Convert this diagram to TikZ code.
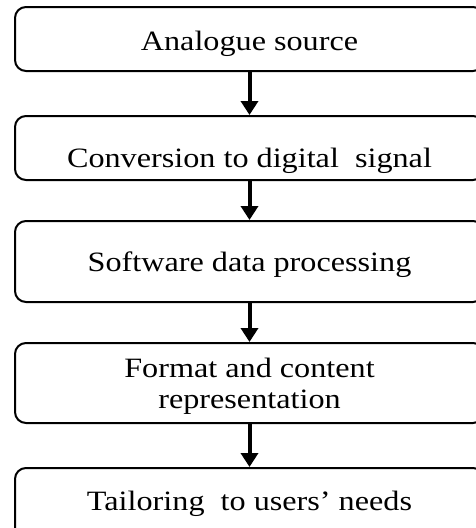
\documentclass[tikz,border=0pt]{standalone}
\usepackage{fontspec}
\setmainfont{Liberation Serif}[FakeStretch=1.15]
\usetikzlibrary{arrows.meta}

\tikzset{
  stagebox/.style={draw=black, line width=2pt, rounded corners=11pt, fill=white,
    minimum width=469pt, inner sep=0pt},
  stagetext/.style={anchor=base, inner sep=0pt, align=center,
    font=\fontsize{28pt}{31pt}\selectfont},
  flowarrow/.style={line width=4pt, -{Triangle[width=17pt,length=14pt]}}
}

\begin{document}
\begin{tikzpicture}[x=1pt, y=-1pt]
  \useasboundingbox (0,0) rectangle (476,528);
  \clip (0,0) rectangle (476,528);

  % stage boxes
  \node[stagebox, minimum height=64pt] (b1) at (249.5,39) {};
  \node[stagebox, minimum height=64pt] (b2) at (249.5,148) {};
  \node[stagebox, minimum height=81pt] (b3) at (249.5,261.5) {};
  \node[stagebox, minimum height=80pt] (b4) at (249.5,383) {};
  \node[stagebox, minimum height=84pt] (b5) at (249.5,510) {};

  % stage captions (base anchor sits on the last line's baseline)
  \node[stagetext] (t1) at (249.5,50) {Analogue source};
  \node[stagetext] (t2) at (249.5,167) {Conversion to digital\ \ signal};
  \node[stagetext] (t3) at (249.5,271.5) {Software data processing};
  \node[stagetext] (t4) at (249.5,408) {Format and content\\representation};
  \node[stagetext] (t5) at (249.5,510) {Tailoring\ \ to users' needs};

  % flow arrows
  \draw[flowarrow] (b1.south) -- (b2.north);
  \draw[flowarrow] (b2.south) -- (b3.north);
  \draw[flowarrow] (b3.south) -- (b4.north);
  \draw[flowarrow] (b4.south) -- (b5.north);
\end{tikzpicture}
\end{document}
